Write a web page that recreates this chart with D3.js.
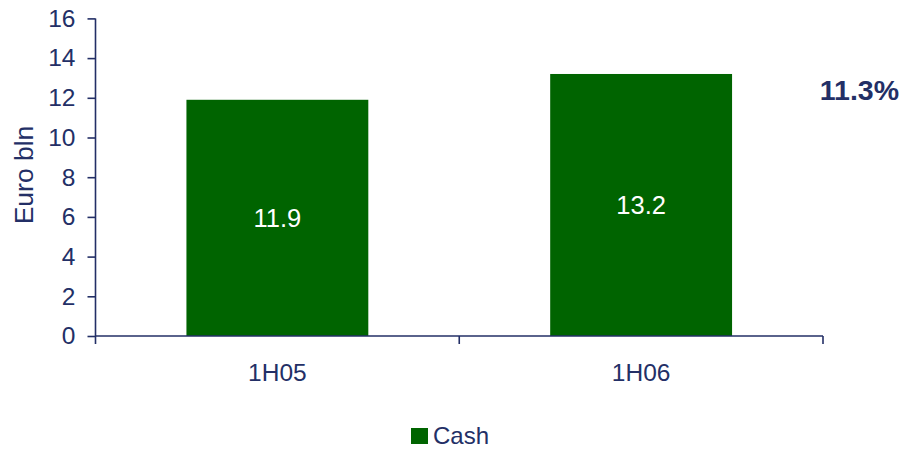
<!DOCTYPE html>
<html>
<head>
<meta charset="utf-8">
<script src="https://cdn.jsdelivr.net/npm/d3@7"></script>
<style>
  html, body { margin: 0; padding: 0; background: #fff; }
  svg { display: block; font-family: "Liberation Sans", Arial, sans-serif; }
</style>
</head>
<body>
<svg id="chart" width="905" height="450"></svg>
<script>
// Half-year cash figures, Euro bln
const periods = ["1H05", "1H06"];
const cashValues = [11.9, 13.2];
const yTicks = [0, 2, 4, 6, 8, 10, 12, 14, 16];
const growthLabel = "11.3%";
const seriesName = "Cash";
const axisTitle = "Euro bln";

const navy = "#232f66";
const green = "#006400";

const svg = d3.select("#chart");
const plotLeft = 95.5, plotRight = 823, plotTop = 18.4, plotBottom = 336;

const x = d3.scaleBand()
  .domain(periods)
  .range([plotLeft, plotRight])
  .paddingInner(0.5)
  .paddingOuter(0.25);

const y = d3.scaleLinear().domain([0, 16]).range([plotBottom, plotTop]);

// Bars
svg.selectAll("rect.bar")
  .data(periods)
  .join("rect")
  .attr("class", "bar")
  .attr("x", d => x(d))
  .attr("width", x.bandwidth())
  .attr("y", (d, i) => y(cashValues[i]))
  .attr("height", (d, i) => y(0) - y(cashValues[i]))
  .attr("fill", green);

// Value labels centred in each bar
svg.selectAll("text.val")
  .data(periods)
  .join("text")
  .attr("class", "val")
  .attr("x", d => x(d) + x.bandwidth() / 2)
  .attr("y", (d, i) => (y(cashValues[i]) + y(0)) / 2)
  .attr("dy", "0.36em")
  .attr("text-anchor", "middle")
  .attr("fill", "#fff")
  .attr("font-size", 25.5)
  .text((d, i) => cashValues[i].toFixed(1));

// Y axis
const yAxis = svg.append("g")
  .attr("transform", `translate(${plotLeft},0)`)
  .call(d3.axisLeft(y).tickValues(yTicks).tickSize(8).tickPadding(12).tickSizeOuter(0));
yAxis.select(".domain").attr("stroke", navy).attr("stroke-width", 1.6)
  .attr("d", `M0,${plotTop}V${plotBottom + 8}`);
yAxis.selectAll(".tick line").attr("stroke", navy).attr("stroke-width", 1.6);
yAxis.selectAll(".tick text").attr("fill", navy).attr("font-size", 24.5)
  .attr("font-family", "Liberation Sans, Arial, sans-serif");

// X axis: ticks mark the category boundaries
const boundaries = periods.map(p => x(p) + x.step() * 0.75);
const xAxis = svg.append("g").attr("transform", `translate(0,${plotBottom})`);
xAxis.append("line")
  .attr("x1", plotLeft).attr("x2", plotRight)
  .attr("stroke", navy).attr("stroke-width", 1.6);
xAxis.selectAll("line.tk")
  .data(boundaries)
  .join("line")
  .attr("class", "tk")
  .attr("x1", d => d).attr("x2", d => d)
  .attr("y1", 0).attr("y2", 8)
  .attr("stroke", navy).attr("stroke-width", 1.6);
xAxis.selectAll("text")
  .data(periods)
  .join("text")
  .attr("x", d => x(d) + x.bandwidth() / 2)
  .attr("y", 45)
  .attr("text-anchor", "middle")
  .attr("fill", navy)
  .attr("font-size", 24.5)
  .text(d => d);

// Axis title
svg.append("text")
  .attr("transform", `translate(33,175) rotate(-90)`)
  .attr("text-anchor", "middle")
  .attr("fill", navy)
  .attr("font-size", 26.5)
  .text(axisTitle);

// Growth annotation
svg.append("text")
  .attr("x", 899)
  .attr("y", 100)
  .attr("text-anchor", "end")
  .attr("fill", navy)
  .attr("font-size", 28.5)
  .attr("font-weight", "bold")
  .text(growthLabel);

// Legend
const legend = svg.append("g").attr("transform", "translate(411,428)");
legend.append("rect").attr("width", 17).attr("height", 16).attr("fill", green);
legend.append("text")
  .attr("x", 22).attr("y", 16)
  .attr("fill", navy)
  .attr("font-size", 24)
  .text(seriesName);
</script>
</body>
</html>
